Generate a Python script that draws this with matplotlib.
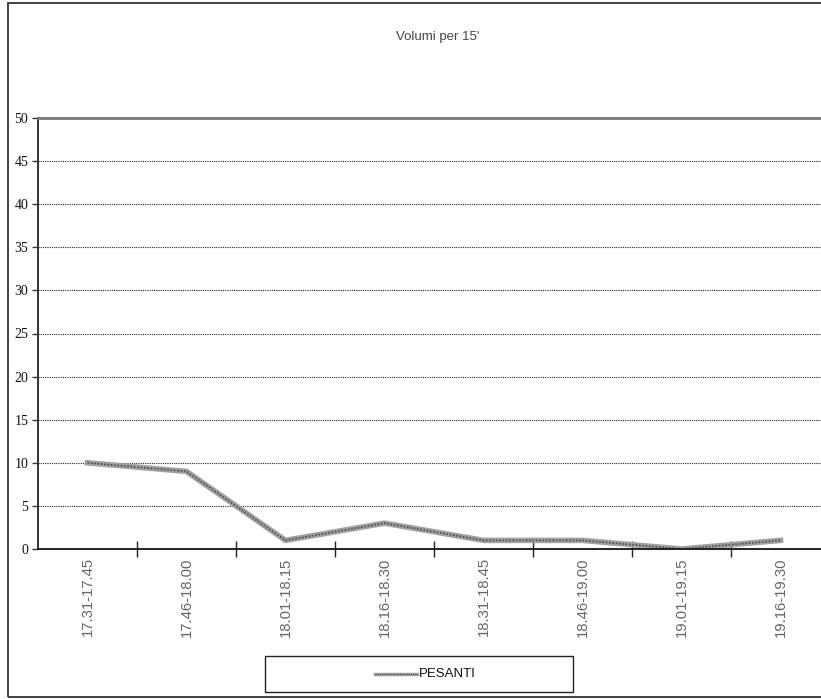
import matplotlib
matplotlib.use("Agg")
import matplotlib.pyplot as plt
import matplotlib.patches as mpatches
from matplotlib.lines import Line2D
from matplotlib.ticker import FixedLocator, NullFormatter

# Dati
categorie = ["17.31-17.45", "17.46-18.00", "18.01-18.15", "18.16-18.30",
             "18.31-18.45", "18.46-19.00", "19.01-19.15", "19.16-19.30"]
pesanti = [10, 9, 1, 3, 1, 1, 0, 1]
y_ticks = [0, 5, 10, 15, 20, 25, 30, 35, 40, 45, 50]

W, H = 821, 699
fig = plt.figure(figsize=(W / 100, H / 100), dpi=100, facecolor="white")

# Cornice esterna (tagliata a destra come nell'originale)
fig.patches.append(mpatches.Rectangle(
    (8 / W, 1 - 697 / H), 1.2, (697 - 3) / H,
    transform=fig.transFigure, fill=False, edgecolor="#333333",
    linewidth=1.3, clip_on=False))

# Area del grafico: si estende oltre il bordo destro
left, right = 38 / W, 830 / W
bottom, top = 1 - 549 / H, 1 - 118 / H
ax = fig.add_axes([left, bottom, right - left, top - bottom])

x = list(range(len(categorie)))
ax.set_xlim(-0.5, len(categorie) - 0.5)
ax.set_ylim(0, 50)

for v in y_ticks[1:-1]:
    ax.axhline(v, color="#222222", linewidth=0.8, linestyle=(0, (1, 1)), zorder=1)

# Linea a motivo (grigio spesso + puntini scuri)
ax.plot(x, pesanti, color="#a0a0a0", linewidth=4.0, zorder=3,
        solid_joinstyle="miter")
ax.plot(x, pesanti, color="#4a4a4a", linewidth=1.2, linestyle=(0, (1, 1)),
        zorder=4)

for s in ["right", "bottom"]:
    ax.spines[s].set_visible(False)
ax.spines["top"].set_color("#777777")
ax.spines["top"].set_linewidth(2)
ax.spines["left"].set_color("#333333")
ax.spines["left"].set_linewidth(1.4)
ax.axhline(0, color="#222222", linewidth=1.4, zorder=5, clip_on=False)

ax.set_yticks(y_ticks)
ax.set_yticklabels([str(v) for v in y_ticks], family="Liberation Serif",
                   fontsize=10, color="#111111")
ax.tick_params(axis="y", length=4, width=1, color="#333333", pad=3)

ax.xaxis.set_major_locator(FixedLocator([i + 0.5 for i in x[:-1]]))
ax.xaxis.set_major_formatter(NullFormatter())
ax.tick_params(axis="x", which="major", direction="inout", length=12,
               width=1, color="#222222")
ax.xaxis.set_minor_locator(FixedLocator(x))
ax.set_xticklabels(categorie, minor=True, rotation=90, family="Liberation Sans",
                   fontsize=10.7, color="#666666")
ax.tick_params(axis="x", which="minor", length=0, pad=6)

fig.text(438 / W, 1 - 37 / H, "Volumi per 15'", ha="center", va="center",
         family="Liberation Sans", fontsize=9.5, color="#444444")

# Legenda
fig.patches.append(mpatches.Rectangle(
    (265 / W, 1 - 692 / H), (573 - 265) / W, (692 - 656) / H,
    transform=fig.transFigure, fill=False, edgecolor="#222222",
    linewidth=1.0))
fig.lines.append(Line2D([375 / W, 417 / W], [1 - 674 / H, 1 - 674 / H],
                        transform=fig.transFigure, color="#a0a0a0",
                        linewidth=2.5))
fig.lines.append(Line2D([375 / W, 417 / W], [1 - 674 / H, 1 - 674 / H],
                        transform=fig.transFigure, color="#4a4a4a",
                        linewidth=0.8, linestyle=(0, (1, 1))))
fig.text(419 / W, 1 - 674 / H, "PESANTI", ha="left", va="center",
         family="Liberation Sans", fontsize=9.5, color="#111111")

fig.savefig("out.png", dpi=100, facecolor="white")
